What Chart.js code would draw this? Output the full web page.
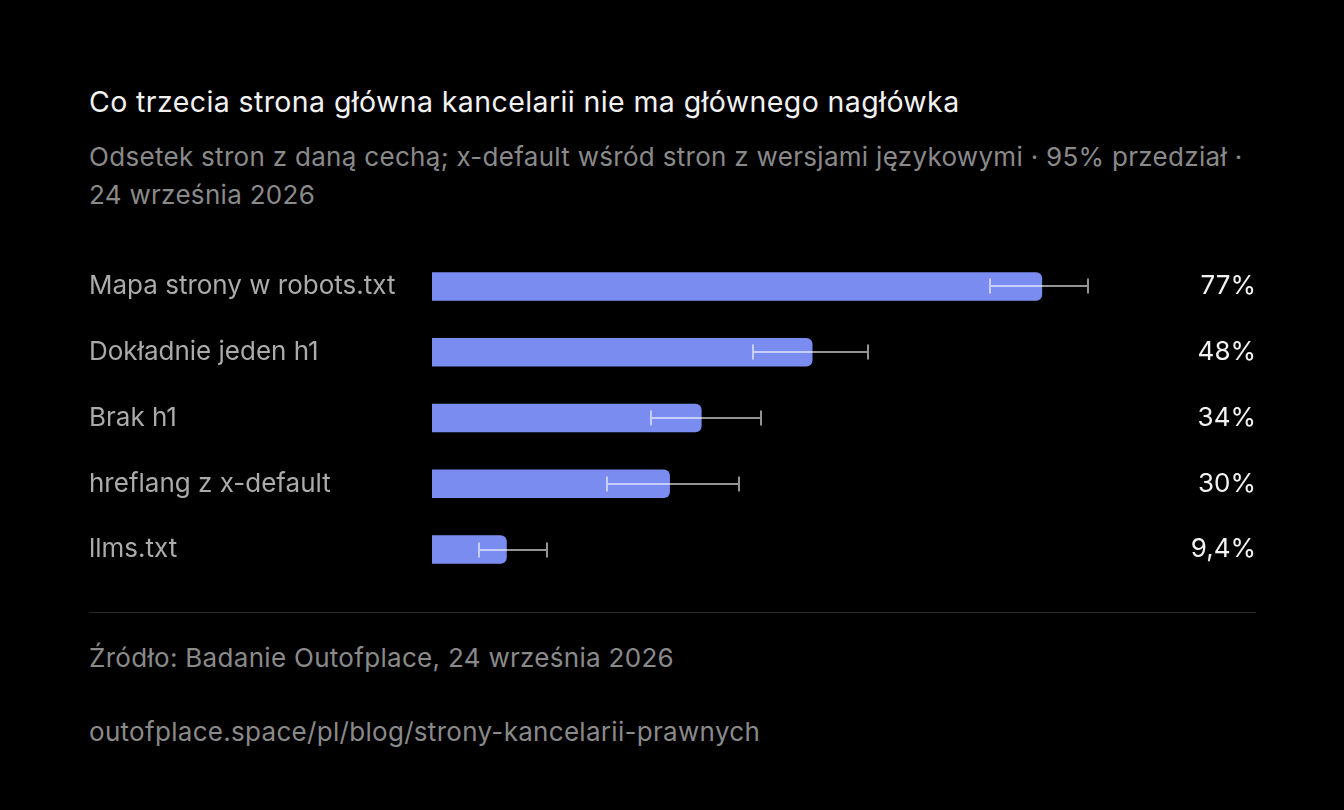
<!DOCTYPE html>
<html lang="pl">
<head>
<meta charset="utf-8">
<title>Co trzecia strona główna kancelarii nie ma głównego nagłówka</title>
<script src="https://cdn.jsdelivr.net/npm/chart.js@4.4.1/dist/chart.umd.min.js"></script>
<style>
  html, body { margin: 0; padding: 0; background: #000; }
  body { width: 1344px; height: 810px; position: relative; overflow: hidden; font-family: Inter, 'Noto Sans', sans-serif; }
  .tytul { position: absolute; left: 89px; top: 85px; font-size: 28.5px; line-height: 34px; color: #f2f2f2; letter-spacing: 0.4px; white-space: nowrap; }
  .podtytul { position: absolute; left: 89px; top: 138px; width: 1200px; font-size: 26px; line-height: 38px; color: #8a8a8a; letter-spacing: 0.3px; white-space: nowrap; }
  .wykres { position: absolute; left: 89px; top: 235px; width: 1167px; height: 366px; }
  .linia { position: absolute; left: 89px; top: 612px; width: 1167px; height: 1px; background: #2a2a2a; }
  .stopka { position: absolute; left: 89px; font-size: 26px; line-height: 38px; color: #8a8a8a; letter-spacing: 0.3px; white-space: nowrap; }
</style>
</head>
<body>
  <div class="tytul">Co trzecia strona główna kancelarii nie ma głównego nagłówka</div>
  <div class="podtytul">Odsetek stron z daną cechą; x-default wśród stron z wersjami językowymi · 95% przedział ·<br>24 września 2026</div>
  <div class="wykres"><canvas id="chart-cechy"></canvas></div>
  <div class="linia"></div>
  <div class="stopka" style="top: 639px;">Źródło: Badanie Outofplace, 24 września 2026</div>
  <div class="stopka" style="top: 713px;">outofplace.space/pl/blog/strony-kancelarii-prawnych</div>

<script>
// --- Dane wykresu ----------------------------------------------------------------
const cechy = ['Mapa strony w robots.txt', 'Dokładnie jeden h1', 'Brak h1', 'hreflang z x-default', 'llms.txt'];
const odsetki = [77, 48, 34, 30, 9.4];
const przedzialDol = [70.4, 40.5, 27.7, 22.1, 5.9];
const przedzialGora = [82.8, 55.0, 41.6, 38.8, 14.5];

const KOLOR_SLUPKA = '#7b8cf0';
const KOLOR_BLEDU = 'rgba(255,255,255,0.58)';

const formatProcent = (v) => String(v).replace('.', ',') + '%';

// Wąsy przedziału ufności + etykiety wartości po prawej
const wasyPlugin = {
  id: 'wasy',
  afterDatasetsDraw(chart) {
    const { ctx, scales: { x } } = chart;
    const meta = chart.getDatasetMeta(0);
    ctx.save();
    ctx.strokeStyle = KOLOR_BLEDU;
    ctx.lineWidth = 2;
    meta.data.forEach((bar, i) => {
      const x1 = Math.round(x.getPixelForValue(przedzialDol[i]));
      const x2 = Math.round(x.getPixelForValue(przedzialGora[i]));
      const y = Math.round(bar.y);
      ctx.beginPath();
      ctx.moveTo(x1, y); ctx.lineTo(x2, y);
      ctx.moveTo(x1, y - 7.5); ctx.lineTo(x1, y + 7.5);
      ctx.moveTo(x2, y - 7.5); ctx.lineTo(x2, y + 7.5);
      ctx.stroke();
    });
    ctx.fillStyle = '#f2f2f2';
    ctx.font = '26px Inter';
    ctx.textAlign = 'right';
    ctx.textBaseline = 'middle';
    meta.data.forEach((bar, i) => {
      ctx.fillText(formatProcent(odsetki[i]), chart.width, bar.y);
    });
    ctx.restore();
  },
};

new Chart(document.querySelector('#chart-cechy'), {
  type: 'bar',
  data: {
    labels: cechy,
    datasets: [{
      data: odsetki,
      backgroundColor: KOLOR_SLUPKA,
      barThickness: 28,
      borderRadius: 6,
      borderSkipped: 'start',
    }],
  },
  options: {
    indexAxis: 'y',
    responsive: true,
    maintainAspectRatio: false,
    animation: false,
    layout: { padding: { left: 0, right: 32, top: 0, bottom: 0 } },
    plugins: { legend: { display: false }, tooltip: { enabled: false } },
    scales: {
      x: { display: false, min: 0, max: 100 },
      y: {
        grid: { display: false },
        border: { display: false },
        afterFit: (scale) => { scale.width = 343; },
        ticks: {
          crossAlign: 'far',
          padding: 3,
          color: '#ababab',
          font: { family: 'Inter', size: 26 },
        },
      },
    },
  },
  plugins: [wasyPlugin],
});
</script>
</body>
</html>
